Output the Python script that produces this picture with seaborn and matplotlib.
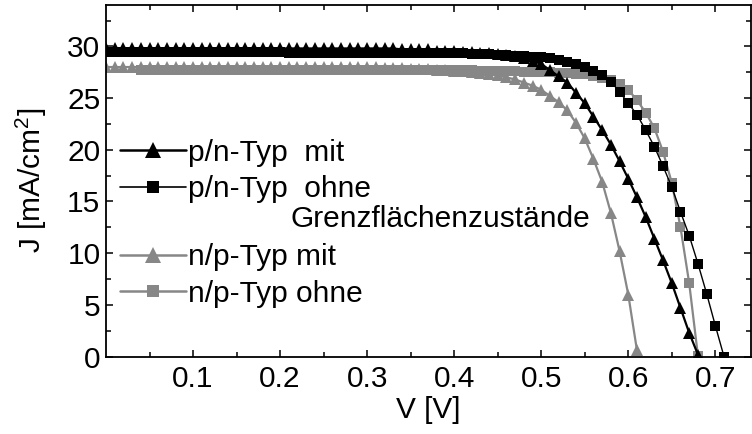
import matplotlib
matplotlib.use("Agg")
import matplotlib.pyplot as plt
from matplotlib.lines import Line2D
from matplotlib.ticker import FixedLocator
import seaborn as sns
import pandas as pd

# ---------------- data ----------------
V = [0.00, 0.01, 0.02, 0.03, 0.04, 0.05, 0.06, 0.07, 0.08, 0.09,
     0.10, 0.11, 0.12, 0.13, 0.14, 0.15, 0.16, 0.17, 0.18, 0.19,
     0.20, 0.21, 0.22, 0.23, 0.24, 0.25, 0.26, 0.27, 0.28, 0.29,
     0.30, 0.31, 0.32, 0.33, 0.34, 0.35, 0.36, 0.37, 0.38, 0.39,
     0.40, 0.41, 0.42, 0.43, 0.44, 0.45, 0.46, 0.47, 0.48, 0.49,
     0.50, 0.51, 0.52, 0.53, 0.54, 0.55, 0.56, 0.57, 0.58, 0.59,
     0.60, 0.61, 0.62, 0.63, 0.64, 0.65, 0.66, 0.67, 0.68, 0.69,
     0.70, 0.71]

J_pn_mit = [29.8, 29.8, 29.8, 29.8, 29.8, 29.8, 29.8, 29.8, 29.8, 29.8,
            29.8, 29.8, 29.8, 29.8, 29.8, 29.8, 29.8, 29.8, 29.8, 29.8,
            29.8, 29.8, 29.8, 29.8, 29.8, 29.8, 29.8, 29.8, 29.8, 29.8,
            29.8, 29.8, 29.8, 29.8, 29.7, 29.7, 29.7, 29.7, 29.6, 29.6,
            29.6, 29.5, 29.5, 29.4, 29.4, 29.3, 29.2, 29.1, 28.9, 28.6,
            28.3, 27.7, 27.1, 26.5, 25.5, 24.5, 23.2, 21.9, 20.5, 18.9,
            17.2, 15.4, 13.5, 11.4, 9.3, 7.1, 4.7, 2.3, 0.2]

J_pn_ohne = [29.5, 29.5, 29.5, 29.5, 29.5, 29.5, 29.5, 29.5, 29.5, 29.5,
             29.5, 29.5, 29.5, 29.5, 29.5, 29.5, 29.5, 29.5, 29.5, 29.5,
             29.5, 29.4, 29.4, 29.4, 29.4, 29.4, 29.4, 29.4, 29.4, 29.4,
             29.4, 29.4, 29.4, 29.4, 29.4, 29.4, 29.4, 29.4, 29.4, 29.4,
             29.4, 29.4, 29.3, 29.3, 29.3, 29.2, 29.2, 29.1, 29.1, 29.0,
             29.0, 28.9, 28.7, 28.5, 28.3, 28.0, 27.6, 27.2, 26.6, 25.6,
             24.5, 23.4, 21.9, 20.3, 18.4, 16.4, 14.0, 11.7, 9.0, 6.1,
             3.0, 0.0]

J_np_mit = [28.0, 28.0, 28.0, 28.0, 28.0, 28.0, 28.0, 28.0, 28.0, 28.0,
            28.0, 28.0, 28.0, 28.0, 28.0, 28.0, 28.0, 28.0, 28.0, 28.0,
            28.0, 28.0, 28.0, 28.0, 28.0, 28.0, 28.0, 28.0, 28.0, 28.0,
            28.0, 28.0, 27.9, 27.9, 27.9, 27.8, 27.8, 27.8, 27.7, 27.7,
            27.6, 27.6, 27.5, 27.4, 27.3, 27.2, 27.0, 26.8, 26.5, 26.2,
            25.8, 25.2, 24.6, 23.8, 22.6, 21.1, 19.1, 16.9, 13.9, 10.2,
            6.0, 0.6]

# n/p ohne starts at V = 0.04 (index 4)
NP_OHNE_START = 4
J_np_ohne = [27.7, 27.7, 27.7, 27.7, 27.7, 27.7,
             27.7, 27.7, 27.7, 27.7, 27.7, 27.7, 27.7, 27.7, 27.7, 27.7,
             27.7, 27.7, 27.7, 27.7, 27.7, 27.7, 27.7, 27.7, 27.7, 27.7,
             27.7, 27.7, 27.7, 27.7, 27.7, 27.7, 27.7, 27.7, 27.7, 27.7,
             27.7, 27.7, 27.7, 27.6, 27.6, 27.6, 27.6, 27.6, 27.5, 27.5,
             27.5, 27.5, 27.4, 27.4, 27.3, 27.3, 27.1, 26.9, 26.7, 26.4,
             25.8, 24.8, 23.6, 22.1, 19.8, 16.8, 12.5, 7.1, 0.1]

X_TICKS = [0.1, 0.2, 0.3, 0.4, 0.5, 0.6, 0.7]
X_MINOR = [0.05, 0.15, 0.25, 0.35, 0.45, 0.55, 0.65]
Y_TICKS = [0, 5, 10, 15, 20, 25, 30]
Y_MINOR = [2.5, 7.5, 12.5, 17.5, 22.5, 27.5, 32.5]

LABELS = ["p/n-Typ  mit", "p/n-Typ  ohne", "n/p-Typ mit", "n/p-Typ ohne"]
MIDDLE_TEXT = "Grenzflächenzustände"

# ---------------- style ----------------
sns.set_theme(style="white")
plt.rcParams["font.family"] = ["Liberation Sans", "DejaVu Sans"]
plt.rcParams["mathtext.fontset"] = "custom"
plt.rcParams["mathtext.rm"] = "Liberation Sans"
plt.rcParams["mathtext.it"] = "Liberation Sans:italic"
for k in ["text.color", "axes.labelcolor", "xtick.color", "ytick.color",
          "axes.edgecolor"]:
    plt.rcParams[k] = "black"

BLACK = "#000000"
GRAY = "#878787"
FS = 21.5

fig = plt.figure(figsize=(7.52, 4.34), dpi=100)
W, H = 752, 434
ax = fig.add_axes([106 / W, (H - 356.6) / H, (751 - 106) / W, (356.6 - 5) / H])

series = [
    (V[:len(J_np_mit)], J_np_mit, GRAY, "^", 9.0, 1.6),
    (V[NP_OHNE_START:NP_OHNE_START + len(J_np_ohne)], J_np_ohne, GRAY, "s", 7.0, 1.6),
    (V[:len(J_pn_ohne)], J_pn_ohne, BLACK, "s", 7.0, 1.0),
    (V[:len(J_pn_mit)], J_pn_mit, BLACK, "^", 9.0, 1.6),
]
for x, y, c, m, ms, lw in series:
    df = pd.DataFrame({"V": x, "J": y})
    sns.lineplot(data=df, x="V", y="J", ax=ax, color=c, marker=m,
                 markersize=ms, markeredgewidth=0, markeredgecolor=c,
                 markerfacecolor=c, linewidth=lw, legend=False)

ax.set_xlim(0, 0.741)
ax.set_ylim(0, 34)
ax.xaxis.set_major_locator(FixedLocator(X_TICKS))
ax.xaxis.set_minor_locator(FixedLocator(X_MINOR))
ax.yaxis.set_major_locator(FixedLocator(Y_TICKS))
ax.yaxis.set_minor_locator(FixedLocator(Y_MINOR))
ax.set_xticklabels([f"{t:g}" for t in X_TICKS])
ax.set_yticklabels([f"{t:g}" for t in Y_TICKS])

ax.tick_params(which="both", direction="in", top=True, right=True,
               bottom=True, left=True, width=1.1, color="black")
ax.tick_params(which="major", length=5, labelsize=FS, labelcolor="black")
ax.tick_params(which="minor", length=3.5)
ax.tick_params(axis="x", which="major", pad=6)
ax.tick_params(axis="y", which="major", pad=4)
for s in ax.spines.values():
    s.set_visible(True)
    s.set_color("black")
    s.set_linewidth(1.3)

ax.set_xlabel("V [V]", fontsize=FS, labelpad=2, color="black")
ax.set_ylabel("J [mA/cm$^2$]", fontsize=FS, labelpad=13, color="black")
ax.grid(False)

# ---------------- legends ----------------
def handle(c, m, ms, lw):
    return Line2D([], [], color=c, marker=m, markersize=ms, linewidth=lw,
                  markeredgewidth=0, markerfacecolor=c)

leg_kw = dict(frameon=False, fontsize=FS, handlelength=2.21, handletextpad=0.07,
              labelspacing=0.28, borderpad=0, borderaxespad=0, loc="center left")
leg1 = ax.legend([handle(BLACK, "^", 11, 1.8), handle(BLACK, "s", 8.5, 1.2)],
                 LABELS[:2], bbox_to_anchor=(0.022, 0.528), **leg_kw)
for t in leg1.get_texts():
    t.set_color("black")
ax.add_artist(leg1)
leg2 = ax.legend([handle(GRAY, "^", 11, 1.8), handle(GRAY, "s", 8.5, 1.8)],
                 LABELS[2:], bbox_to_anchor=(0.022, 0.231), **leg_kw)
for t in leg2.get_texts():
    t.set_color("black")

ax.text((290 - 106) / 645, 1 - (219 - 5) / 351.6, MIDDLE_TEXT,
        transform=ax.transAxes, fontsize=FS, va="center", ha="left",
        color="black")

fig.savefig("out.png", dpi=100)
